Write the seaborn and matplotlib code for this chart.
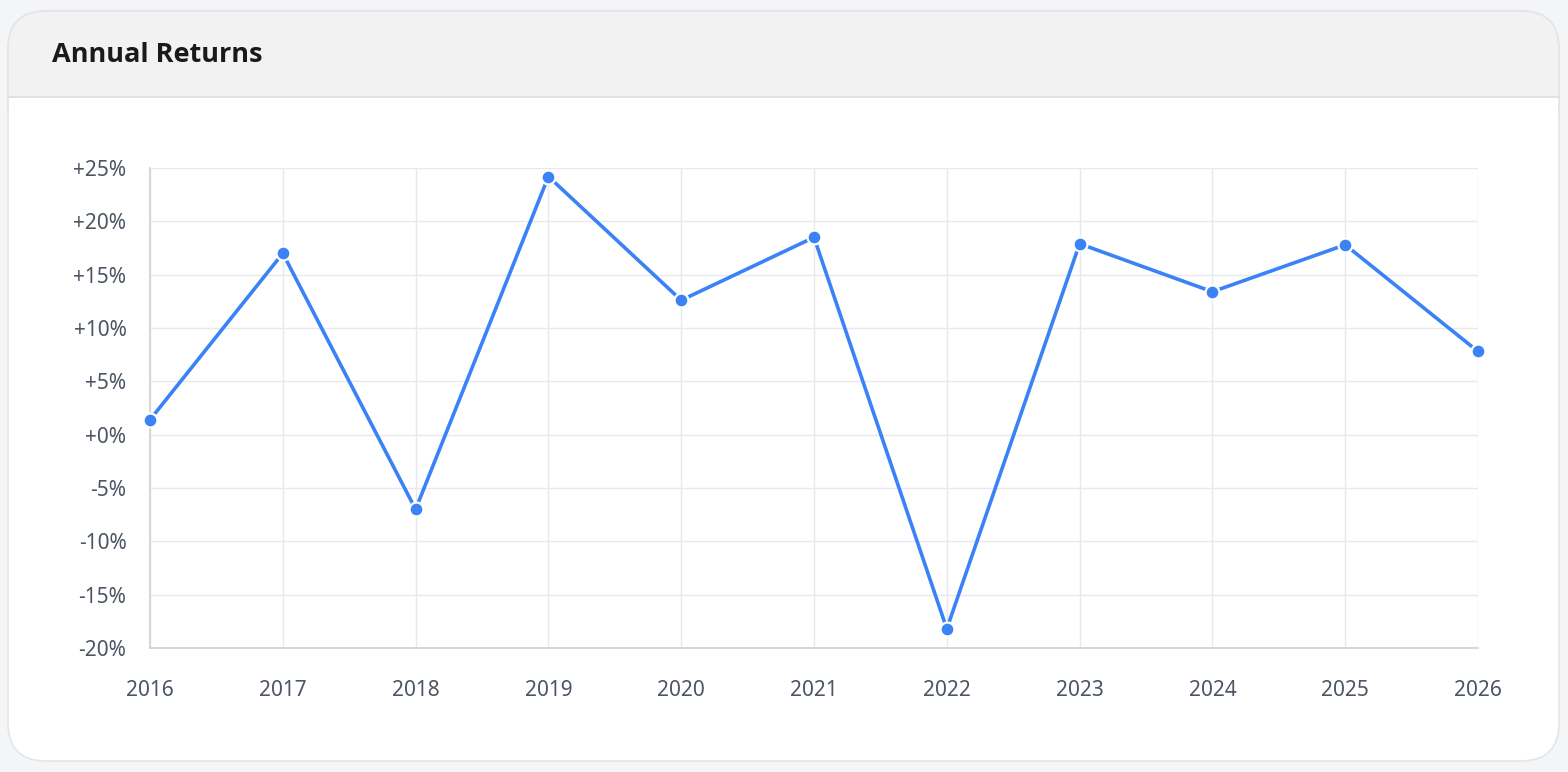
import matplotlib
matplotlib.use("Agg")
import matplotlib.pyplot as plt
from matplotlib.patches import FancyBboxPatch, Rectangle
import pandas as pd
import seaborn as sns

years = [2016, 2017, 2018, 2019, 2020, 2021, 2022, 2023, 2024, 2025, 2026]
returns = [1.4, 17.0, -7.0, 24.2, 12.6, 18.5, -18.2, 17.9, 13.4, 17.8, 7.8]
y_ticks = [-20, -15, -10, -5, 0, 5, 10, 15, 20, 25]

df = pd.DataFrame({"year": years, "ret": returns})

sns.set_theme(style="white")
plt.rcParams["font.family"] = ["Noto Sans", "DejaVu Sans"]

W, H = 1568, 772
fig = plt.figure(figsize=(W / 100, H / 100), dpi=100)
fig.patch.set_facecolor("#f4f5f7")

# card background drawn in pixel coordinates
bg = fig.add_axes([0, 0, 1, 1], zorder=0)
bg.set_xlim(0, W)
bg.set_ylim(H, 0)
bg.axis("off")
bg.add_patch(FancyBboxPatch((8, 11), 1551, 750, boxstyle="round,pad=0,rounding_size=38",
                            fc="white", ec="#e3e5e8", lw=1.2))
bg.add_patch(FancyBboxPatch((8, 11), 1551, 130, boxstyle="round,pad=0,rounding_size=38",
                            fc="#f2f2f2", ec="#e3e5e8", lw=1.2))
bg.add_patch(Rectangle((9, 97), 1549, 60, fc="white", ec="none"))
bg.plot([8, 1559], [97, 97], color="#dedede", lw=1.2)
bg.text(52, 55, "Annual Returns", fontsize=19.5, fontweight="bold", color="#1a1a1a",
        va="center", ha="left", family=["Open Sans", "DejaVu Sans"])

ax = fig.add_axes([150 / W, 1 - 648 / H, 1328 / W, 480 / H], zorder=1)
ax.patch.set_alpha(0)
sns.lineplot(data=df, x="year", y="ret", ax=ax, color="#3b82f6", lw=2.6,
             marker="o", markersize=10, markeredgecolor="white", markeredgewidth=1.6,
             clip_on=False, zorder=3)

ax.set_xlim(years[0], years[-1])
ax.set_ylim(-20, 25)
ax.set_xticks(years)
ax.set_xticklabels([str(y) for y in years])
ax.set_yticks(y_ticks)
ax.set_yticklabels([f"{v:+d}%" if v != 0 else "+0%" for v in y_ticks])
ax.grid(True, color="#e8e9ec", lw=1)
ax.set_axisbelow(True)
for s in ["top", "right"]:
    ax.spines[s].set_visible(False)
for s in ["left", "bottom"]:
    ax.spines[s].set_color("#cfd1d4")
    ax.spines[s].set_linewidth(1.2)
ax.tick_params(axis="both", colors="#e3e5e8", labelcolor="#4b5563", labelsize=15,
               length=10, width=1)
ax.tick_params(axis="y", pad=7)
ax.tick_params(axis="x", pad=13)
ax.set_xlabel("")
ax.set_ylabel("")

fig.savefig("out.png", dpi=100, facecolor=fig.get_facecolor())
